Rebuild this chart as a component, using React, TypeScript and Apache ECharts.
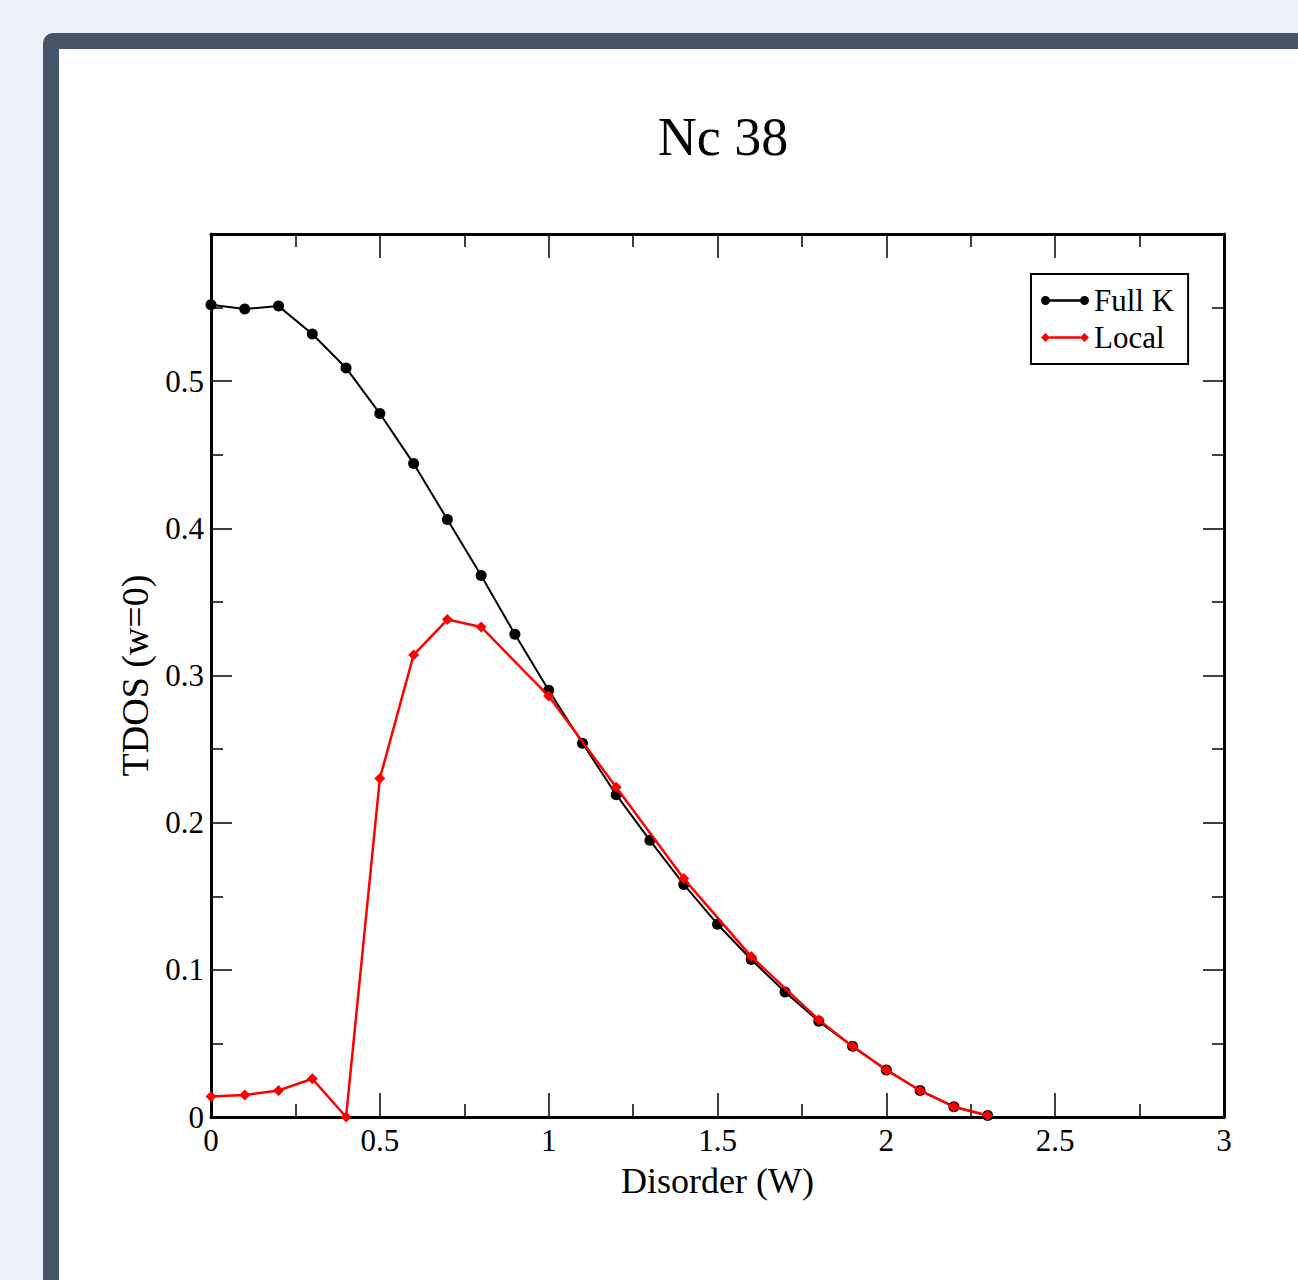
import React, { useEffect, useRef } from "react";
import * as echarts from "echarts";

const titleText = "Nc 38";
const xAxisName = "Disorder (W)";
const yAxisName = "TDOS (w=0)";
const seriesNames = ["Full K", "Local"];

const fullKX = [0, 0.1, 0.2, 0.3, 0.4, 0.5, 0.6, 0.7, 0.8, 0.9, 1.0, 1.1, 1.2, 1.3, 1.4, 1.5, 1.6, 1.7, 1.8, 1.9, 2.0, 2.1, 2.2, 2.3];
const fullKY = [0.552, 0.549, 0.551, 0.532, 0.509, 0.478, 0.444, 0.406, 0.368, 0.328, 0.290, 0.254, 0.219, 0.188, 0.158, 0.131, 0.107, 0.085, 0.065, 0.048, 0.032, 0.018, 0.007, 0.001];

const localX = [0, 0.1, 0.2, 0.3, 0.4, 0.5, 0.6, 0.7, 0.8, 1.0, 1.2, 1.4, 1.6, 1.8, 1.9, 2.0, 2.1, 2.2, 2.3];
const localY = [0.014, 0.015, 0.018, 0.026, 0.0, 0.230, 0.314, 0.338, 0.333, 0.286, 0.224, 0.162, 0.109, 0.066, 0.048, 0.032, 0.018, 0.007, 0.001];

const FONT = "'Liberation Serif', 'Times New Roman', serif";

const circleIcon =
  "path://M0,4.5C0,2.015 2.015,0 4.5,0C6.985,0 9,2.015 9,4.5C9,6.985 6.985,9 4.5,9C2.015,9 0,6.985 0,4.5Z" +
  "M8.5,3.2L39.5,3.2L39.5,5.8L8.5,5.8Z" +
  "M39,4.5C39,2.015 41.015,0 43.5,0C45.985,0 48,2.015 48,4.5C48,6.985 45.985,9 43.5,9C41.015,9 39,6.985 39,4.5Z";
const diamondIcon =
  "path://M0,4.5L4.5,0L9,4.5L4.5,9Z M8.5,3.2L39.5,3.2L39.5,5.8L8.5,5.8Z M39,4.5L43.5,0L48,4.5L43.5,9Z";

export default function App() {
  const ref = useRef<HTMLDivElement>(null);

  useEffect(() => {
    if (!ref.current) return;
    const chart = echarts.init(ref.current, null, { renderer: "svg" });

    const axisLine = { show: true, onZero: false, lineStyle: { color: "#000", width: 3 } };
    const tickStyle = { color: "#000", width: 1.5 };

    const xBase = {
      type: "value" as const,
      min: 0,
      max: 3,
      interval: 0.5,
      axisLine,
      splitLine: { show: false },
      axisTick: { show: true, inside: true, length: 24, lineStyle: tickStyle },
      minorTick: { show: true, splitNumber: 2, length: 13, lineStyle: tickStyle },
      minorSplitLine: { show: false },
    };
    const yBase = {
      type: "value" as const,
      min: 0,
      max: 0.6,
      interval: 0.1,
      axisLine,
      splitLine: { show: false },
      axisTick: { show: true, inside: true, length: 21, lineStyle: tickStyle },
      minorTick: { show: true, splitNumber: 2, length: 12, lineStyle: tickStyle },
      minorSplitLine: { show: false },
    };

    chart.setOption({
      animation: false,
      backgroundColor: "#ffffff",
      title: {
        text: titleText,
        left: 659,
        top: 56,
        textAlign: "center",
        textStyle: { fontFamily: FONT, fontSize: 54, fontWeight: "normal", color: "#000" },
      },
      legend: {
        orient: "vertical",
        left: 972,
        top: 225,
        backgroundColor: "#fff",
        borderColor: "#000",
        borderWidth: 2,
        borderRadius: 0,
        padding: [11, 14, 11, 10],
        itemWidth: 48,
        itemHeight: 9,
        itemGap: 6,
        textStyle: { fontFamily: FONT, fontSize: 31, color: "#000" },
        data: [
          { name: seriesNames[0], icon: circleIcon, itemStyle: { color: "#000000", borderWidth: 0 } },
          { name: seriesNames[1], icon: diamondIcon, itemStyle: { color: "#ff0000", borderWidth: 0 } },
        ],
      },
      grid: { left: 152, top: 185, width: 1013, height: 883, containLabel: false },
      xAxis: [
        {
          ...xBase,
          position: "bottom",
          name: xAxisName,
          nameLocation: "middle",
          nameGap: 46,
          nameTextStyle: { fontFamily: FONT, fontSize: 36, color: "#000" },
          axisLabel: { show: true, fontFamily: FONT, fontSize: 31, color: "#000", margin: 8 },
        },
        { ...xBase, position: "top", axisLabel: { show: false } },
      ],
      yAxis: [
        {
          ...yBase,
          position: "left",
          name: yAxisName,
          nameLocation: "middle",
          nameGap: 52,
          nameTextStyle: { fontFamily: FONT, fontSize: 38, color: "#000" },
          axisLabel: { show: true, showMaxLabel: false, fontFamily: FONT, fontSize: 31, color: "#000", margin: 7 },
        },
        { ...yBase, position: "right", axisLabel: { show: false } },
      ],
      series: [
        {
          name: seriesNames[0],
          type: "line",
          data: fullKX.map((x, i) => [x, fullKY[i]]),
          symbol: "circle",
          symbolSize: 11,
          color: "#000000",
          lineStyle: { color: "#000000", width: 2 },
          itemStyle: { color: "#000000" },
          clip: false,
          z: 2,
        },
        {
          name: seriesNames[1],
          type: "line",
          data: localX.map((x, i) => [x, localY[i]]),
          symbol: "diamond",
          symbolSize: 11,
          color: "#ff0000",
          lineStyle: { color: "#ff0000", width: 2.5 },
          itemStyle: { color: "#ff0000" },
          clip: false,
          z: 3,
        },
      ],
    });

    return () => chart.dispose();
  }, []);

  return (
    <div style={{ position: "fixed", inset: 0, background: "#edf2fa", overflow: "hidden" }}>
      <div
        style={{
          position: "absolute",
          left: 43,
          top: 33,
          width: 1400,
          height: 1400,
          border: "16px solid #475569",
          borderRadius: 10,
          background: "#ffffff",
        }}
      >
        <div ref={ref} style={{ position: "absolute", left: 0, top: 0, width: 1239, height: 1231 }} />
      </div>
    </div>
  );
}
